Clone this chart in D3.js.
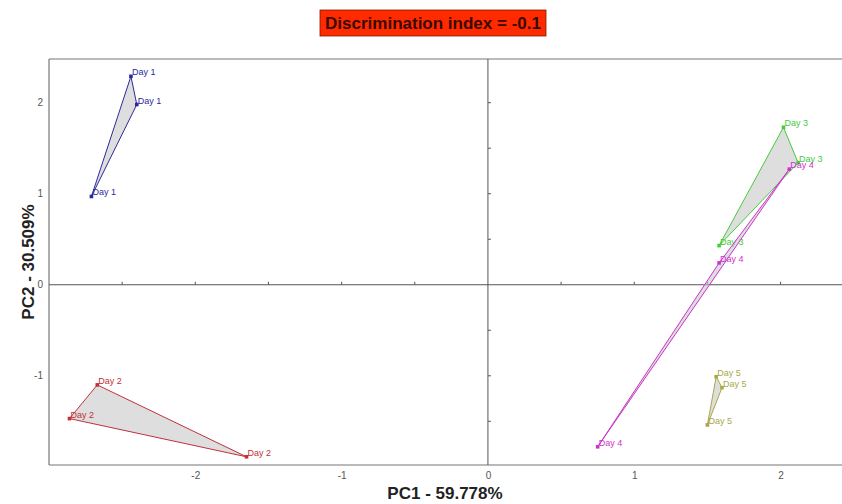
<!DOCTYPE html>
<html>
<head>
<meta charset="utf-8">
<script src="https://cdn.jsdelivr.net/npm/d3@7"></script>
<style>
  body { margin: 0; background: #fff; }
  svg { display: block; font-family: Arial, "Liberation Sans", sans-serif; }
</style>
</head>
<body>
<div class="chart"></div>
<script>
// Score plot values
const groups = ['Day 1', 'Day 2', 'Day 3', 'Day 4', 'Day 5'];
const groupColors = ['#2a2a9c', '#c0303a', '#44cc3a', '#cc33cc', '#a8a848'];
const pc1 = [
  [-2.44, -2.40, -2.71],
  [-2.67, -2.86, -1.65],
  [2.02, 2.12, 1.58],
  [2.06, 1.58, 0.75],
  [1.56, 1.60, 1.50]
];
const pc2 = [
  [2.29, 1.98, 0.97],
  [-1.10, -1.47, -1.89],
  [1.73, 1.34, 0.43],
  [1.27, 0.24, -1.78],
  [-1.01, -1.13, -1.54]
];
const xTicks = [-2, -1, 0, 1, 2];
const yTicks = [-1, 0, 1, 2];
const minorTicks = [-2.5, -2, -1.5, -1, -0.5, 0.5, 1, 1.5, 2];

const width = 842;
const height = 504;
const plot = {left: 49, right: 842, top: 59, bottom: 465};

const x = d3.scaleLinear().domain([-3.0, 2.42]).range([plot.left, plot.right]);
const y = d3.scaleLinear().domain([2.48, -1.98]).range([plot.top, plot.bottom]);

// plain hyphen for negatives, like the original
const tickFmt = d => String(d);

const svg = d3.select('.chart').append('svg')
    .attr('width', width)
    .attr('height', height);

// title box
const title = svg.append('g').attr('transform', 'translate(433,23)');
title.append('rect')
    .attr('x', -113).attr('y', -13)
    .attr('width', 226).attr('height', 26)
    .attr('fill', '#ff2a00')
    .attr('stroke', '#7a1a00')
    .attr('stroke-width', 0.8);
title.append('text')
    .attr('text-anchor', 'middle')
    .attr('dy', '0.36em')
    .attr('font-size', 17)
    .attr('font-weight', 'bold')
    .attr('fill', '#3a0a00')
    .text('Discrimination index = -0.1');

// frame (left, top, bottom)
const frame = svg.append('g')
    .attr('stroke', '#777')
    .attr('stroke-width', 1.2);
frame.append('line')
    .attr('x1', plot.left).attr('x2', plot.left)
    .attr('y1', plot.top).attr('y2', plot.bottom);
frame.append('line')
    .attr('x1', plot.left).attr('x2', plot.right)
    .attr('y1', plot.top).attr('y2', plot.top);
frame.append('line')
    .attr('x1', plot.left).attr('x2', plot.right)
    .attr('y1', plot.bottom).attr('y2', plot.bottom);

// zero lines with small ticks
const zero = svg.append('g').attr('stroke', '#555').attr('stroke-width', 1);
zero.append('line')
    .attr('x1', x(0)).attr('x2', x(0))
    .attr('y1', plot.top).attr('y2', plot.bottom);
zero.append('line')
    .attr('x1', plot.left).attr('x2', plot.right)
    .attr('y1', y(0)).attr('y2', y(0));
zero.selectAll('.vt')
  .data(minorTicks.filter(d => y(d) > plot.top && y(d) < plot.bottom))
  .join('line')
    .attr('x1', x(0)).attr('x2', x(0) + 3)
    .attr('y1', d => y(d)).attr('y2', d => y(d));
zero.selectAll('.ht')
  .data(minorTicks.filter(d => x(d) > plot.left && x(d) < plot.right))
  .join('line')
    .attr('x1', d => x(d)).attr('x2', d => x(d))
    .attr('y1', y(0)).attr('y2', y(0) - 3);

// tick labels
const xAxis = svg.append('g')
    .attr('transform', `translate(0,${plot.bottom})`)
    .call(d3.axisBottom(x).tickValues(xTicks).tickSize(0).tickPadding(7).tickFormat(tickFmt));
const yAxis = svg.append('g')
    .attr('transform', `translate(${plot.left},0)`)
    .call(d3.axisLeft(y).tickValues(yTicks).tickSize(0).tickPadding(6).tickFormat(tickFmt));
[xAxis, yAxis].forEach(a => {
  a.select('.domain').remove();
  a.selectAll('text')
      .attr('font-size', 10)
      .attr('fill', '#555')
      .attr('font-family', 'Arial, sans-serif');
});

// axis titles
svg.append('text')
    .attr('x', 445).attr('y', 499)
    .attr('text-anchor', 'middle')
    .attr('font-size', 17)
    .attr('font-weight', 'bold')
    .attr('fill', '#222')
    .text('PC1 - 59.778%');
svg.append('text')
    .attr('transform', 'translate(34,262) rotate(-90)')
    .attr('text-anchor', 'middle')
    .attr('font-size', 17)
    .attr('font-weight', 'bold')
    .attr('fill', '#222')
    .text('PC2 - 30.509%');

// groups: hull, points, labels
const data = groups.map((g, i) => ({
  name: g,
  color: groupColors[i],
  pts: pc1[i].map((v, j) => [v, pc2[i][j]])
}));

const gGroups = svg.append('g').selectAll('g')
  .data(data)
  .join('g');

gGroups.append('path')
    .attr('d', d => d3.line().x(p => x(p[0])).y(p => y(p[1])).curve(d3.curveLinearClosed)(d.pts))
    .attr('fill', '#c8c8c8')
    .attr('fill-opacity', 0.6)
    .attr('stroke', d => d.color)
    .attr('stroke-width', 1);

gGroups.selectAll('rect')
  .data(d => d.pts.map(p => ({p, color: d.color, name: d.name})))
  .join('rect')
    .attr('x', d => x(d.p[0]) - 1.8)
    .attr('y', d => y(d.p[1]) - 1.8)
    .attr('width', 3.6)
    .attr('height', 3.6)
    .attr('fill', d => d.color);

gGroups.selectAll('text')
  .data(d => d.pts.map(p => ({p, color: d.color, name: d.name})))
  .join('text')
    .attr('x', d => x(d.p[0]) + 1)
    .attr('y', d => y(d.p[1]) - 1)
    .attr('font-size', 9)
    .attr('fill', d => d.color)
    .text(d => d.name);
</script>
</body>
</html>
